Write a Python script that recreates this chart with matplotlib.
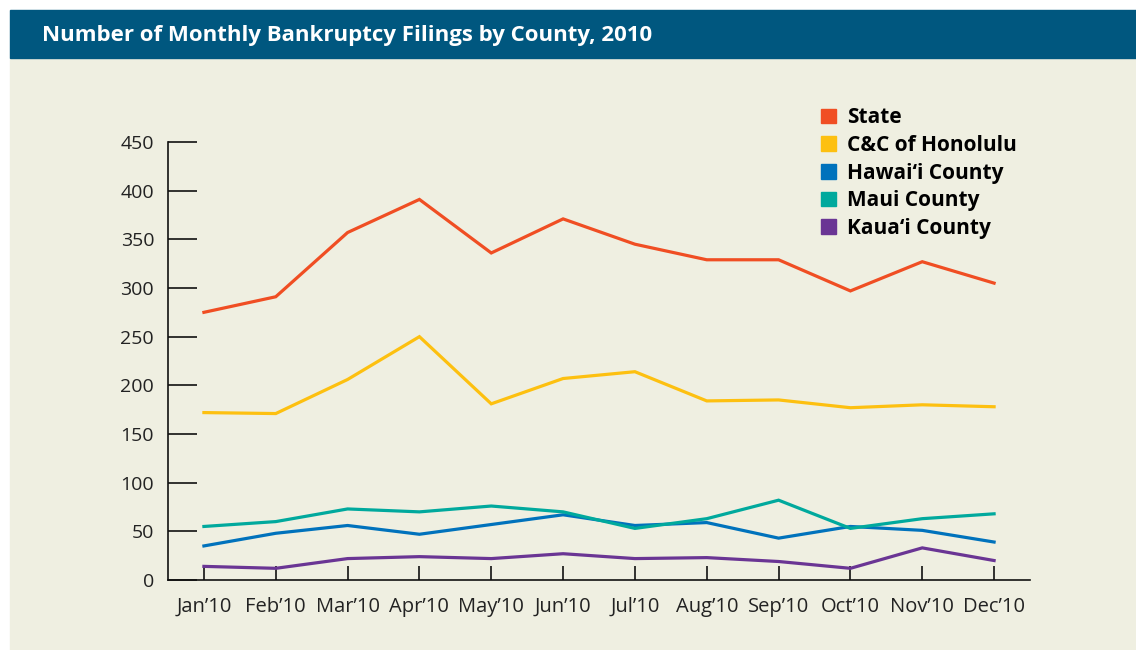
import matplotlib.pyplot as plt
from matplotlib.patches import Rectangle

months = ["Jan\u201910", "Feb\u201910", "Mar\u201910", "Apr\u201910", "May\u201910", "Jun\u201910",
          "Jul\u201910", "Aug\u201910", "Sep\u201910", "Oct\u201910", "Nov\u201910", "Dec\u201910"]

state = [275, 291, 357, 391, 336, 371, 345, 329, 329, 297, 327, 305]
honolulu = [172, 171, 206, 250, 181, 207, 214, 184, 185, 177, 180, 178]
hawaii = [35, 48, 56, 47, 57, 67, 56, 59, 43, 55, 51, 39]
maui = [55, 60, 73, 70, 76, 70, 53, 63, 82, 53, 63, 68]
kauai = [14, 12, 22, 24, 22, 27, 22, 23, 19, 12, 33, 20]

series = [
    ("State", state, "#f04e23"),
    ("C&C of Honolulu", honolulu, "#fdc010"),
    ("Hawai\u2018i County", hawaii, "#0072bc"),
    ("Maui County", maui, "#00a99d"),
    ("Kaua\u2018i County", kauai, "#6a3594"),
]
yticks = list(range(0, 451, 50))

plt.rcParams["font.family"] = ["Open Sans", "DejaVu Sans"]

W, H = 1136, 650
fig = plt.figure(figsize=(W / 100, H / 100), dpi=100)
fig.patch.set_facecolor("white")

# background: cream panel and title banner, in figure pixels
bg = fig.add_axes([0, 0, 1, 1], zorder=0)
bg.set_xlim(0, W)
bg.set_ylim(H, 0)
bg.axis("off")
bg.add_patch(Rectangle((10, 58), W - 10, H - 58, color="#efefe1"))
bg.add_patch(Rectangle((10, 10), W - 10, 48, color="#00577f"))
bg.text(42, 36, "Number of Monthly Bankruptcy Filings by County, 2010",
        color="white", fontsize=16, fontweight="bold", va="center", ha="left")

ax = fig.add_axes([168 / W, 1 - 580 / H, (1030 - 168) / W, (580 - 142) / H], zorder=1)
ax.set_facecolor("none")

x = list(range(len(months)))
for name, vals, col in series:
    ax.plot(x, vals, color=col, lw=2.3, label=name, solid_joinstyle="miter")

ax.set_xlim(-0.5, 11.5)
ax.set_ylim(0, 450)
ax.set_yticks(yticks)
ax.set_xticks(x)
ax.set_xticklabels(months)
for s in ["top", "right"]:
    ax.spines[s].set_visible(False)
for s in ["left", "bottom"]:
    ax.spines[s].set_linewidth(1.2)
    ax.spines[s].set_color("#111111")
ax.tick_params(axis="y", direction="in", length=21, width=1.2, labelsize=14,
               pad=10, colors="#111111", labelcolor="#222222")
ax.tick_params(axis="x", direction="in", length=10, width=1.2, labelsize=14.5,
               pad=12, colors="#111111", labelcolor="#222222")

handles = [Rectangle((0, 0), 1, 1, color=c) for _, _, c in series]
fig.legend(handles, [n for n, _, _ in series], loc="upper left",
           bbox_to_anchor=(813 / W, 1 - 99 / H), frameon=False,
           prop={"size": 15, "weight": "bold"}, handlelength=0.72,
           handleheight=0.72, handletextpad=0.52, labelspacing=0.32,
           borderaxespad=0)

fig.savefig("out.png", dpi=100, facecolor=fig.get_facecolor())
